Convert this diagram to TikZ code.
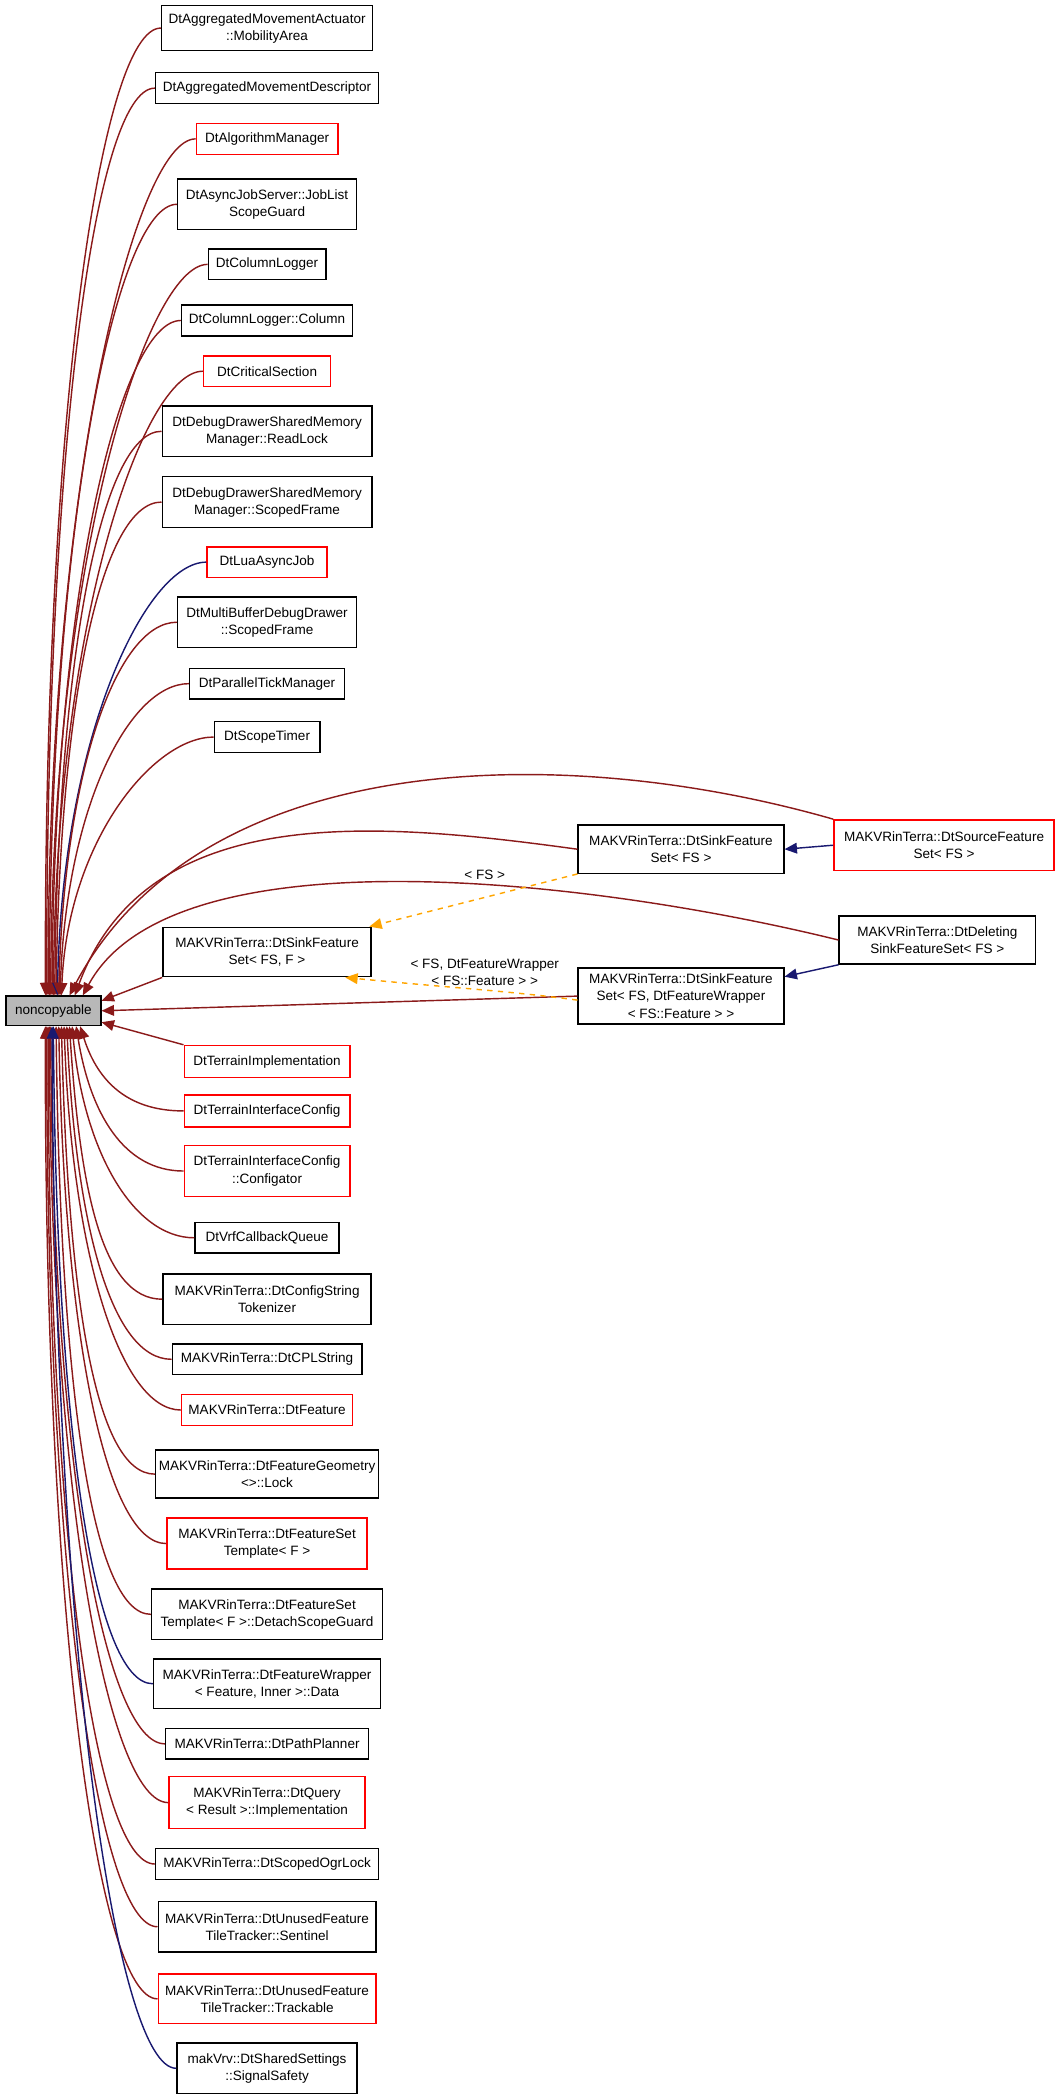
\documentclass[tikz,border=0pt]{standalone}
\usepackage{fontspec}
\setmainfont{Liberation Sans}
\usetikzlibrary{arrows.meta}
\definecolor{dred}{RGB}{139,26,26}
\definecolor{dblue}{RGB}{25,25,112}
\definecolor{orng}{RGB}{255,165,0}
\begin{document}
\begin{tikzpicture}[x=0.75pt,y=-0.75pt,
 box/.style={draw,thick,fill=white,align=center,inner sep=1pt,font=\fontsize{7.6}{9.6}\selectfont},
 red/.style={draw=red},
 gr/.style={fill=black!28},
 e/.style={dred,-{Triangle[length=7pt,width=6pt]},thick},
 b/.style={dblue,-{Triangle[length=7pt,width=6pt]},thick},
 o/.style={orng,dashed,-{Triangle[length=7pt,width=6pt]},thick},
 lab/.style={font=\fontsize{7.6}{9.6}\selectfont,align=center}]
\useasboundingbox (0,0) rectangle (795,1572);
\newcommand\nd[7]{\node[box,#6,minimum width=#4*0.75pt,minimum height=#5*0.75pt] (#1) at (#2,#3) {#7};}
\nd{n1}{200}{21}{158}{34}{}{DtAggregatedMovementActuator\\::MobilityArea}
\nd{n2}{200}{66}{167}{23}{}{DtAggregatedMovementDescriptor}
\nd{n3}{200}{104}{106}{23}{red}{DtAlgorithmManager}
\nd{n4}{200}{153}{134}{38}{}{DtAsyncJobServer::JobList\\ScopeGuard}
\nd{n5}{200}{198}{88}{23}{}{DtColumnLogger}
\nd{n6}{200}{240}{128}{23}{}{DtColumnLogger::Column}
\nd{n7}{200}{278}{95}{23}{red}{DtCriticalSection}
\nd{n8}{200}{323}{157}{38}{}{DtDebugDrawerSharedMemory\\Manager::ReadLock}
\nd{n9}{200}{376}{157}{38}{}{DtDebugDrawerSharedMemory\\Manager::ScopedFrame}
\nd{n10}{200}{421}{90}{23}{red}{DtLuaAsyncJob}
\nd{n11}{200}{466}{134}{38}{}{DtMultiBufferDebugDrawer\\::ScopedFrame}
\nd{n12}{200}{512}{116}{23}{}{DtParallelTickManager}
\nd{n13}{200}{552}{79}{23}{}{DtScopeTimer}
\nd{n14}{707}{633}{165}{38}{red}{MAKVRinTerra::DtSourceFeature\\Set< FS >}
\nd{n15}{510}{636}{154}{36}{}{MAKVRinTerra::DtSinkFeature\\Set< FS >}
\nd{n16}{702}{704}{147}{36}{}{MAKVRinTerra::DtDeleting\\SinkFeatureSet< FS >}
\nd{n17}{200}{713}{156}{37}{}{MAKVRinTerra::DtSinkFeature\\Set< FS, F >}
\nd{n18}{510}{746}{154}{42}{}{MAKVRinTerra::DtSinkFeature\\Set< FS, DtFeatureWrapper\\< FS::Feature > >}
\nd{nc}{40}{757}{71}{22}{gr}{noncopyable}
\nd{n20}{200}{795}{124}{24}{red}{DtTerrainImplementation}
\nd{n21}{200}{832}{124}{24}{red}{DtTerrainInterfaceConfig}
\nd{n22}{200}{877}{124}{38}{red}{DtTerrainInterfaceConfig\\::Configator}
\nd{n23}{200}{927}{108}{23}{}{DtVrfCallbackQueue}
\nd{n24}{200}{973}{156}{38}{}{MAKVRinTerra::DtConfigString\\Tokenizer}
\nd{n25}{200}{1018}{142}{23}{}{MAKVRinTerra::DtCPLString}
\nd{n26}{200}{1056}{128}{23}{red}{MAKVRinTerra::DtFeature}
\nd{n27}{200}{1104}{167}{36}{}{MAKVRinTerra::DtFeatureGeometry\\<>::Lock}
\nd{n28}{200}{1156}{150}{38}{red}{MAKVRinTerra::DtFeatureSet\\Template< F >}
\nd{n29}{200}{1209}{173}{38}{}{MAKVRinTerra::DtFeatureSet\\Template< F >::DetachScopeGuard}
\nd{n30}{200}{1261}{170}{37}{}{MAKVRinTerra::DtFeatureWrapper\\< Feature, Inner >::Data}
\nd{n31}{200}{1306}{152}{23}{}{MAKVRinTerra::DtPathPlanner}
\nd{n32}{200}{1350}{147}{39}{red}{MAKVRinTerra::DtQuery\\< Result >::Implementation}
\nd{n33}{200}{1396}{167}{23}{}{MAKVRinTerra::DtScopedOgrLock}
\nd{n34}{200}{1443}{163}{38}{}{MAKVRinTerra::DtUnusedFeature\\TileTracker::Sentinel}
\nd{n35}{200}{1497}{163}{37}{red}{MAKVRinTerra::DtUnusedFeature\\TileTracker::Trackable}
\nd{n36}{200}{1549}{135}{38}{}{makVrv::DtSharedSettings\\::SignalSafety}
% upper edges
\foreach \n/\s/\y/\c in {n1/-6/21/e,n2/-5/66/e,n3/-4/104/e,n4/-3/153/e,n5/-2/198/e,n6/-1/240/e,n7/0/278/e,n8/1/323/e,n9/2/376/e,n10/3/421/b,n11/4/466/e,n12/5/512/e,n13/6/552/e}{
 \pgfmathsetmacro\cy{\y+0.4*(746-\y)}
 \draw[\c] (\n.west) .. controls ++(-45,0) and (42+\s*1.5,\cy) .. ([xshift=\s*0.75pt]nc.north);}
\draw[e] (n14.north west) .. controls (420,555) and (150,560) .. ([xshift=12*0.75pt]nc.north);
\draw[e] (n15.west) .. controls (280,615) and (110,600) .. ([xshift=16*0.75pt]nc.north);
\draw[e] (n16.west) .. controls (450,660) and (130,620) .. ([xshift=22*0.75pt]nc.north);
\draw[e] (n17.south west) -- ([yshift=-4*0.75pt]nc.north east);
\draw[e] (n18.west) -- (nc.east);
\draw[e] (n20.north west) -- ([yshift=3*0.75pt]nc.south east);
% lower edges
\foreach \n/\s/\y/\c in {n21/20/832/e,n22/17/877/e,n23/14/927/e,n24/12/973/e,n25/10/1018/e,n26/8/1056/e,n27/6/1104/e,n28/4/1156/e,n29/2/1209/e,n30/0/1261/b,n31/-2/1306/e,n32/-3/1350/e,n33/-4/1396/e,n34/-5/1443/e,n35/-6/1497/e,n36/-1/1549/b}{
 \pgfmathsetmacro\cy{\y-0.4*(\y-768)}
 \draw[\c] (\n.west) .. controls ++(-45,0) and (42+\s*1.5,\cy) .. ([xshift=\s*0.75pt]nc.south);}
% blue and orange
\draw[b] (n14.west) -- (n15.east);
\draw[b] (n16.south west) -- ([yshift=-7*0.75pt]n18.north east);
\draw[o] (n15.south west) -- ([xshift=-2*0.75pt]n17.north east);
\node[lab] (l1) at (363,655) {< FS >};
\draw[o] ([yshift=-3*0.75pt]n18.west) .. controls (380,742) and (340,740) .. ([xshift=-20*0.75pt]n17.south east);
\node[lab] (l2) at (363,728) {< FS, DtFeatureWrapper\\< FS::Feature > >};
\end{tikzpicture}
\end{document}
